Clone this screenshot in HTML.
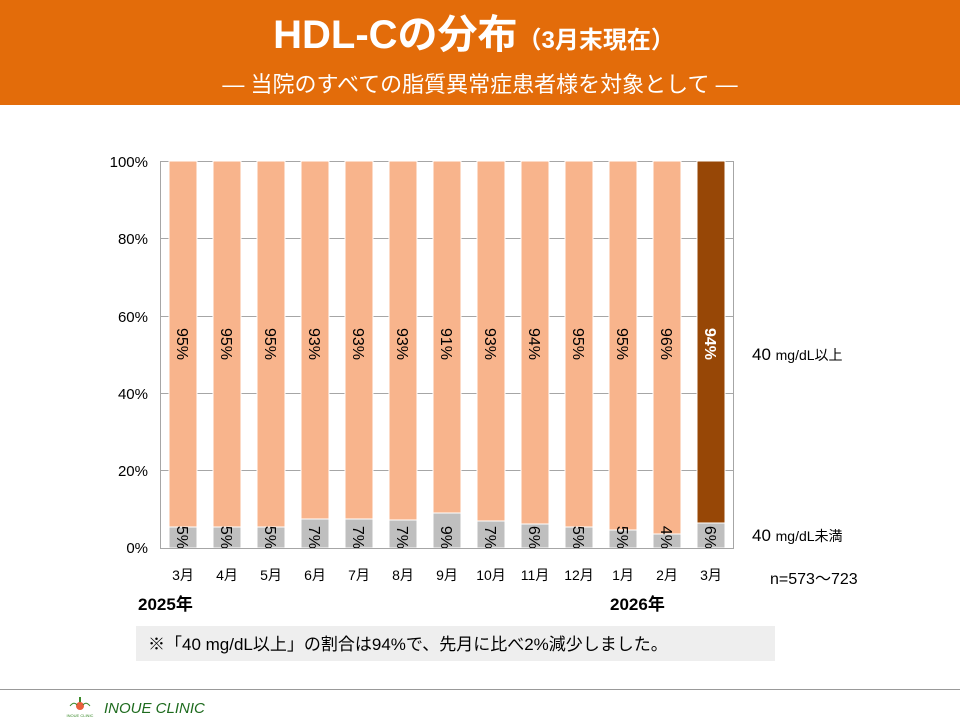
<!DOCTYPE html>
<html><head><meta charset="utf-8"><style>
body{margin:0;width:960px;height:720px;background:#fff;overflow:hidden;font-family:"Liberation Sans","Noto Sans CJK JP",sans-serif}
</style></head><body>
<svg width="960" height="720" xmlns="http://www.w3.org/2000/svg" font-family="Liberation Sans, Noto Sans CJK JP, sans-serif">
<rect x="0" y="0" width="960" height="105" fill="#E36C0A"/>
<text x="474" y="48" text-anchor="middle" fill="#fff" font-weight="bold" font-size="40">HDL-Cの分布<tspan font-size="24">（3月末現在）</tspan></text>
<text x="480" y="92" text-anchor="middle" fill="#fff" font-size="22">―   当院のすべての脂質異常症患者様を対象として   ―</text>
<g stroke="#a6a6a6" stroke-width="1">
<line x1="160" y1="161.5" x2="734" y2="161.5"/>
<line x1="160" y1="238.5" x2="734" y2="238.5"/>
<line x1="160" y1="316.5" x2="734" y2="316.5"/>
<line x1="160" y1="393.5" x2="734" y2="393.5"/>
<line x1="160" y1="470.5" x2="734" y2="470.5"/>
<line x1="160.5" y1="161" x2="160.5" y2="548"/>
<line x1="733.5" y1="161" x2="733.5" y2="548"/>
</g>
<g font-size="15" fill="#000" text-anchor="end">
<text x="148" y="167">100%</text><text x="148" y="244">80%</text><text x="148" y="322">60%</text><text x="148" y="399">40%</text><text x="148" y="476">20%</text><text x="148" y="553">0%</text>
</g>
<g stroke="#fff" stroke-width="1">
<rect x="169" y="161" width="28" height="366" fill="#F8B48C"/><rect x="169" y="527" width="28" height="21" fill="#bfbfbf"/>
<rect x="213" y="161" width="28" height="366" fill="#F8B48C"/><rect x="213" y="527" width="28" height="21" fill="#bfbfbf"/>
<rect x="257" y="161" width="28" height="366" fill="#F8B48C"/><rect x="257" y="527" width="28" height="21" fill="#bfbfbf"/>
<rect x="301" y="161" width="28" height="358" fill="#F8B48C"/><rect x="301" y="519" width="28" height="29" fill="#bfbfbf"/>
<rect x="345" y="161" width="28" height="358" fill="#F8B48C"/><rect x="345" y="519" width="28" height="29" fill="#bfbfbf"/>
<rect x="389" y="161" width="28" height="359" fill="#F8B48C"/><rect x="389" y="520" width="28" height="28" fill="#bfbfbf"/>
<rect x="433" y="161" width="28" height="352" fill="#F8B48C"/><rect x="433" y="513" width="28" height="35" fill="#bfbfbf"/>
<rect x="477" y="161" width="28" height="360" fill="#F8B48C"/><rect x="477" y="521" width="28" height="27" fill="#bfbfbf"/>
<rect x="521" y="161" width="28" height="363" fill="#F8B48C"/><rect x="521" y="524" width="28" height="24" fill="#bfbfbf"/>
<rect x="565" y="161" width="28" height="366" fill="#F8B48C"/><rect x="565" y="527" width="28" height="21" fill="#bfbfbf"/>
<rect x="609" y="161" width="28" height="369" fill="#F8B48C"/><rect x="609" y="530" width="28" height="18" fill="#bfbfbf"/>
<rect x="653" y="161" width="28" height="373" fill="#F8B48C"/><rect x="653" y="534" width="28" height="14" fill="#bfbfbf"/>
<rect x="697" y="161" width="28" height="362" fill="#974706"/><rect x="697" y="523" width="28" height="25" fill="#bfbfbf"/>
</g>
<g font-size="16" text-anchor="middle" fill="#000">
<text transform="translate(177,344) rotate(90)">95%</text>
<text transform="translate(221,344) rotate(90)">95%</text>
<text transform="translate(265,344) rotate(90)">95%</text>
<text transform="translate(309,344) rotate(90)">93%</text>
<text transform="translate(353,344) rotate(90)">93%</text>
<text transform="translate(397,344) rotate(90)">93%</text>
<text transform="translate(441,344) rotate(90)">91%</text>
<text transform="translate(485,344) rotate(90)">93%</text>
<text transform="translate(529,344) rotate(90)">94%</text>
<text transform="translate(573,344) rotate(90)">95%</text>
<text transform="translate(617,344) rotate(90)">95%</text>
<text transform="translate(661,344) rotate(90)">96%</text>
<text transform="translate(705,344) rotate(90)" fill="#fff" font-weight="bold">94%</text>
</g>
<g font-size="16" text-anchor="end" fill="#000">
<text transform="translate(177,549) rotate(90)">5%</text>
<text transform="translate(221,549) rotate(90)">5%</text>
<text transform="translate(265,549) rotate(90)">5%</text>
<text transform="translate(309,549) rotate(90)">7%</text>
<text transform="translate(353,549) rotate(90)">7%</text>
<text transform="translate(397,549) rotate(90)">7%</text>
<text transform="translate(441,549) rotate(90)">9%</text>
<text transform="translate(485,549) rotate(90)">7%</text>
<text transform="translate(529,549) rotate(90)">6%</text>
<text transform="translate(573,549) rotate(90)">5%</text>
<text transform="translate(617,549) rotate(90)">5%</text>
<text transform="translate(661,549) rotate(90)">4%</text>
<text transform="translate(705,549) rotate(90)">6%</text>
</g>
<line x1="160" y1="548.5" x2="734" y2="548.5" stroke="#a6a6a6"/>
<g font-size="14" text-anchor="middle">
<text x="183" y="580">3月</text><text x="227" y="580">4月</text><text x="271" y="580">5月</text><text x="315" y="580">6月</text><text x="359" y="580">7月</text><text x="403" y="580">8月</text><text x="447" y="580">9月</text><text x="491" y="580">10月</text><text x="535" y="580">11月</text><text x="579" y="580">12月</text><text x="623" y="580">1月</text><text x="667" y="580">2月</text><text x="711" y="580">3月</text>
</g>
<text x="752" y="360" font-size="17">40 <tspan font-size="14">mg/dL以上</tspan></text>
<text x="752" y="541" font-size="17">40 <tspan font-size="14">mg/dL未満</tspan></text>
<text x="770" y="584" font-size="16">n=573～723</text>
<text x="138" y="610" font-size="17" font-weight="bold">2025年</text>
<text x="610" y="610" font-size="17" font-weight="bold">2026年</text>
<rect x="136" y="626" width="639" height="35" fill="#eeeeee"/>
<text x="148" y="650" font-size="17">※「40 mg/dL以上」の割合は94%で、先月に比べ2%減少しました。</text>
<line x1="0" y1="689.5" x2="960" y2="689.5" stroke="#999"/>
<g transform="translate(70,697)">
<line x1="10" y1="0" x2="10" y2="12" stroke="#3a8a2a" stroke-width="2"/>
<circle cx="10" cy="9" r="4" fill="#e8603c"/>
<path d="M0 9 Q4 4 7 8 M13 8 Q16 4 20 9" stroke="#3a8a2a" fill="none"/>
<text x="10" y="20" font-size="4" text-anchor="middle" fill="#3a8a2a">INOUE CLINIC</text>
</g>
<text x="104" y="713" font-size="15" font-style="italic" fill="#1e6b1e">INOUE CLINIC</text>
</svg>
</body></html>
